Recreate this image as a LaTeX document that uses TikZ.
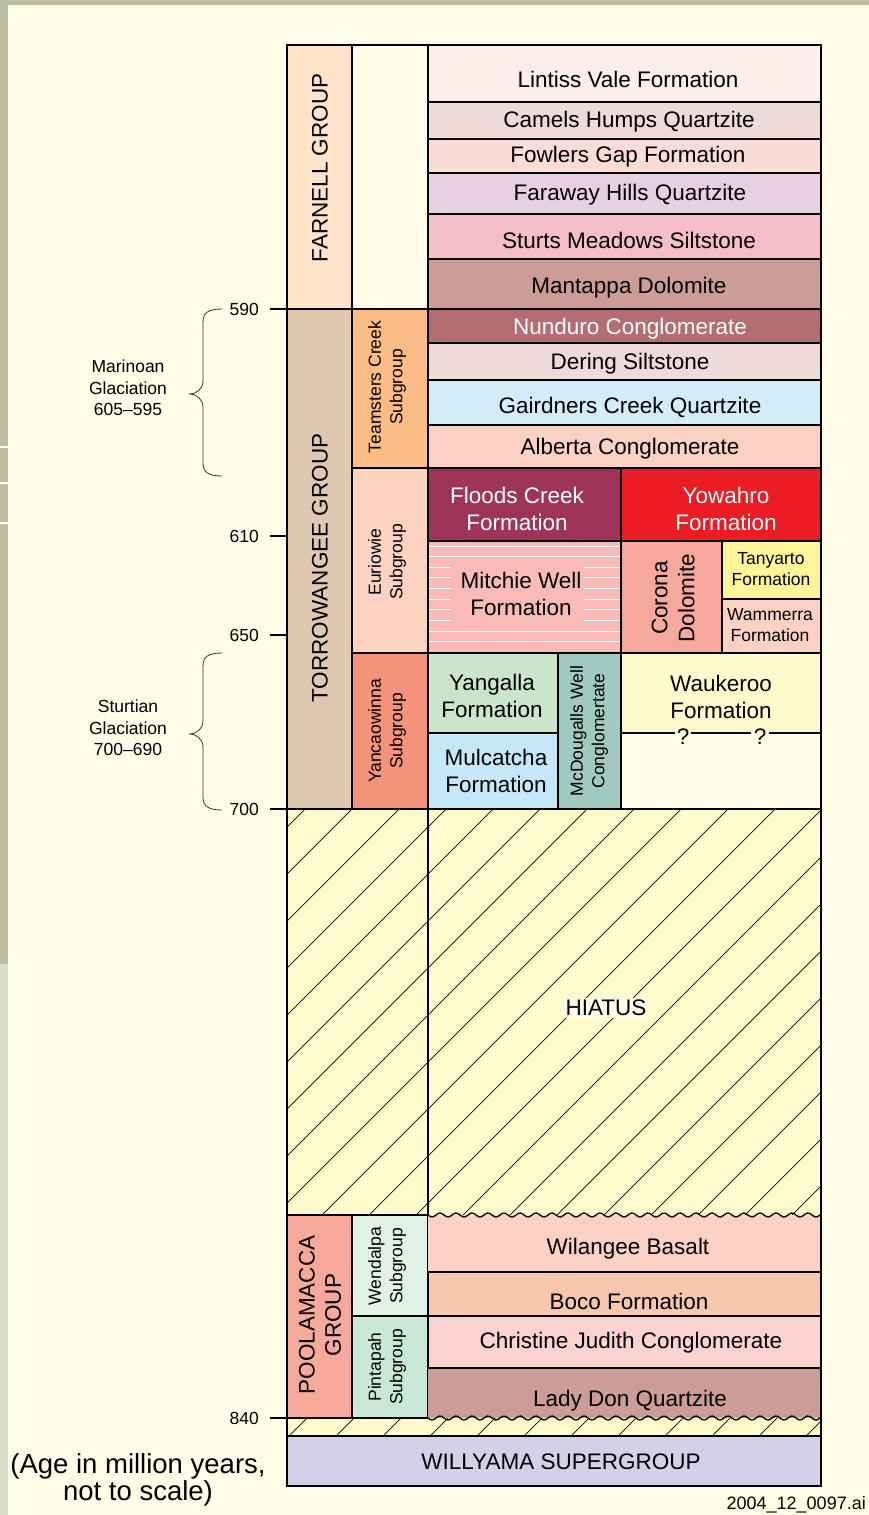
\documentclass[tikz,border=0pt]{standalone}
\usepackage{fontspec}
\setmainfont{Liberation Sans}
\definecolor{bg}{HTML}{FFFDE8}
\definecolor{strip}{HTML}{BBBF9F}
\definecolor{stripb}{HTML}{D9DCC8}
\definecolor{farnell}{HTML}{FDE3C8}
\definecolor{torro}{HTML}{E0C8B0}
\definecolor{lintiss}{HTML}{FDEEEB}
\definecolor{camels}{HTML}{EEDBD9}
\definecolor{fowlers}{HTML}{FBDDD6}
\definecolor{faraway}{HTML}{E8D0E3}
\definecolor{sturts}{HTML}{F6BECA}
\definecolor{mantappa}{HTML}{CC9D97}
\definecolor{nunduro}{HTML}{B46E72}
\definecolor{dering}{HTML}{EEDBD9}
\definecolor{gairdners}{HTML}{D2EDF8}
\definecolor{alberta}{HTML}{FBD1C3}
\definecolor{teamsters}{HTML}{FBBC85}
\definecolor{euriowie}{HTML}{FCD3C1}
\definecolor{yancaowinna}{HTML}{F4937A}
\definecolor{floods}{HTML}{9E3558}
\definecolor{yowahro}{HTML}{EC1C24}
\definecolor{mitchie}{HTML}{F9BBB8}
\definecolor{corona}{HTML}{F5A89B}
\definecolor{tanyarto}{HTML}{FEF598}
\definecolor{wammerra}{HTML}{FBD1C3}
\definecolor{yangalla}{HTML}{CBE5CB}
\definecolor{mulcatcha}{HTML}{C4E8F7}
\definecolor{mcdougalls}{HTML}{A0C9C0}
\definecolor{waukeroo}{HTML}{FFFACC}
\definecolor{hiatus}{HTML}{FFFBCC}
\definecolor{poolamacca}{HTML}{F6A99B}
\definecolor{wendalpa}{HTML}{E0F2E6}
\definecolor{pintapah}{HTML}{C9E7D5}
\definecolor{wilangee}{HTML}{FBD1C6}
\definecolor{boco}{HTML}{F9C6AE}
\definecolor{christine}{HTML}{FAD2D0}
\definecolor{ladydon}{HTML}{CC9D97}
\definecolor{willyama}{HTML}{D3D0E8}
\tikzset{
  unitline/.style={draw=black, line width=1.3pt},
  hatchline/.style={draw=black, line width=0.7pt},
  bigtxt/.style={font=\fontsize{22.5}{27}\selectfont, align=center, inner sep=0pt},
  smalltxt/.style={font=\fontsize{17.5}{21.5}\selectfont, align=center, inner sep=0pt},
  grptxt/.style={font=\fontsize{22.5}{26}\selectfont, align=center, inner sep=0pt},
  bracestyle/.style={draw=black!80, line width=0.8pt},
  tickline/.style={draw=black, line width=1.3pt},
}
\newcommand\bx[5]{\draw[unitline, fill=#5] (#1,#2) rectangle (#3,#4);}
\begin{document}
\begin{tikzpicture}[x=1pt,y=-1pt]
\useasboundingbox (0,0) rectangle (869,1515);
% background
\fill[bg] (0,0) rectangle (869,1515);
\fill[strip] (0,0) rectangle (869,5);
\fill[strip] (0,0) rectangle (8,964);
\fill[stripb] (0,964) rectangle (8,1515);
\draw[white, line width=1.2pt] (0,447) -- (8,447) (0,483) -- (8,483) (0,523) -- (8,523);
% hiatus area with hatching
\fill[hiatus] (287,809) rectangle (821,1436);
\begin{scope}
  \clip (287,809) rectangle (821,1436);
  \foreach \c in {1114,1161,...,2260} \draw[hatchline] ({\c-1440},1440) -- ({\c-800},800);
\end{scope}
\draw[unitline] (428,809) -- (428,1215);
% Farnell
\bx{287}{45}{352}{309}{farnell}
\bx{352}{45}{428}{309}{bg}
\bx{428}{45}{821}{102}{lintiss}
\bx{428}{102}{821}{139}{camels}
\bx{428}{139}{821}{173}{fowlers}
\bx{428}{173}{821}{214}{faraway}
\bx{428}{214}{821}{259}{sturts}
\bx{428}{259}{821}{309}{mantappa}
% Torrowangee
\bx{287}{309}{352}{809}{torro}
\bx{352}{309}{428}{468}{teamsters}
\bx{352}{468}{428}{653}{euriowie}
\bx{352}{653}{428}{809}{yancaowinna}
\bx{428}{309}{821}{343}{nunduro}
\bx{428}{343}{821}{380}{dering}
\bx{428}{380}{821}{425}{gairdners}
\bx{428}{425}{821}{468}{alberta}
\bx{428}{468}{621}{541}{floods}
\bx{621}{468}{821}{541}{yowahro}
% Mitchie Well with white lines
\fill[mitchie] (428,541) rectangle (621,653);
\foreach \y in {546,556,631,641} \draw[white, line width=1pt] (428,\y) -- (621,\y);
\foreach \y in {567,577,588,599,609,620} \draw[white, line width=1pt] (428,\y) -- (451,\y) (584,\y) -- (621,\y);
\draw[unitline] (428,541) rectangle (621,653);
\bx{621}{541}{722}{653}{corona}
\bx{722}{541}{821}{599}{tanyarto}
\bx{722}{599}{821}{653}{wammerra}
\bx{428}{653}{558}{733}{yangalla}
\bx{428}{733}{558}{809}{mulcatcha}
\bx{558}{653}{621}{809}{mcdougalls}
\fill[waukeroo] (621,653) rectangle (821,733);
\draw[unitline] (621,653) rectangle (821,809);
\draw[unitline] (621,733) -- (675,733) (691,733) -- (751,733) (769,733) -- (821,733);
% Poolamacca
\bx{287}{1215}{352}{1418}{poolamacca}
\bx{352}{1215}{428}{1316}{wendalpa}
\bx{352}{1316}{428}{1418}{pintapah}
\fill[wilangee] (428,1215) rectangle (821,1272);
\bx{428}{1272}{821}{1316}{boco}
\bx{428}{1316}{821}{1368}{christine}
\fill[ladydon] (428,1368) rectangle (821,1418);
\draw[unitline] (428,1368) -- (821,1368);
\draw[unitline] plot[domain=428:821, samples=200] (\x,{1215+2*sin((\x-428)*22.5)});
\draw[unitline] plot[domain=428:821, samples=200] (\x,{1418+2*sin((\x-428)*22.5)});
\draw[unitline] (287,1215) -- (428,1215);
% Willyama
\bx{287}{1436}{821}{1486}{willyama}
% outer frame
\draw[line width=2pt] (287,45) rectangle (821,1486);
% ticks
\foreach \yy/\lab in {309/590, 536/610, 635/650, 809/700, 1418/840}{
  \draw[tickline] (270,\yy) -- (287,\yy);
  \node[smalltxt, anchor=east] (tick\lab) at (259,\yy) {\lab};
}
% braces
\draw[bracestyle] (222,309) .. controls (208,309) and (203,313) .. (203,322) -- (203,381)
  .. controls (203,389) and (196,394) .. (190,394) .. controls (196,394) and (203,399) .. (203,407)
  -- (203,463) .. controls (203,472) and (208,476) .. (222,476);
\draw[bracestyle] (222,653) .. controls (208,653) and (203,657) .. (203,666) -- (203,721)
  .. controls (203,729) and (196,734) .. (190,734) .. controls (196,734) and (203,739) .. (203,747)
  -- (203,797) .. controls (203,806) and (208,810) .. (222,810);
\node[smalltxt] (marinoan) at (128,388) {Marinoan\\Glaciation\\605–595};
\node[smalltxt] (sturtian) at (128,728) {Sturtian\\Glaciation\\700–690};
% group and subgroup labels
\node[grptxt, rotate=90] (farnellg) at (320,168) {FARNELL GROUP};
\node[grptxt, rotate=90] (torrog) at (320,568) {TORROWANGEE GROUP};
\node[grptxt, rotate=90] (poolg) at (320,1315) {POOLAMACCA\\GROUP};
\node[smalltxt, rotate=90] (teamsg) at (387,387) {Teamsters Creek\\Subgroup};
\node[smalltxt, rotate=90] (eurig) at (387,562) {Euriowie\\Subgroup};
\node[smalltxt, rotate=90] (yancg) at (387,731) {Yancaowinna\\Subgroup};
\node[smalltxt, rotate=90] (wendg) at (387,1266) {Wendalpa\\Subgroup};
\node[smalltxt, rotate=90] (pintg) at (387,1367) {Pintapah\\Subgroup};
% formation labels
\node[bigtxt] (lintisst) at (628,79) {Lintiss Vale Formation};
\node[bigtxt] (camelst) at (629,122) {Camels Humps Quartzite};
\node[bigtxt] (fowlerst) at (628,157) {Fowlers Gap Formation};
\node[bigtxt] (farawayt) at (630,195) {Faraway Hills Quartzite};
\node[bigtxt] (sturtst) at (629,240) {Sturts Meadows Siltstone};
\node[bigtxt] (mantappat) at (629,288) {Mantappa Dolomite};
\node[bigtxt, text=white] (nundurot) at (630,329) {Nunduro Conglomerate};
\node[bigtxt] (deringt) at (630,364) {Dering Siltstone};
\node[bigtxt] (gairdnerst) at (630,407) {Gairdners Creek Quartzite};
\node[bigtxt] (albertat) at (630,449) {Alberta Conglomerate};
\node[bigtxt, text=white] (floodst) at (517,509) {Floods Creek\\Formation};
\node[bigtxt, text=white] (yowahrot) at (726,509) {Yowahro\\Formation};
\node[bigtxt] (mitchiet) at (521,594) {Mitchie Well\\Formation};
\node[bigtxt, rotate=90] (coronat) at (673,598) {Corona\\Dolomite};
\node[smalltxt] (tanyartot) at (771,569) {Tanyarto\\Formation};
\node[smalltxt] (wammerrat) at (770,625) {Wammerra\\Formation};
\node[bigtxt] (yangallat) at (492,696) {Yangalla\\Formation};
\node[bigtxt] (mulcatchat) at (496,771) {Mulcatcha\\Formation};
\node[smalltxt, rotate=90] (mcdougallst) at (589,731) {McDougalls Well\\Conglomertate};
\node[bigtxt] (waukeroot) at (721,697) {Waukeroo\\Formation};
\node[bigtxt] (q1) at (683,737) {?};
\node[bigtxt] (q2) at (760,737) {?};
\node[bigtxt, fill=bg, inner sep=2pt] (hiatust) at (606,1008) {HIATUS};
\node[bigtxt] (wilangeet) at (628,1249) {Wilangee Basalt};
\node[bigtxt] (bocot) at (629,1301) {Boco Formation};
\node[bigtxt] (christinet) at (631,1343) {Christine Judith Conglomerate};
\node[bigtxt] (ladydont) at (630,1401) {Lady Don Quartzite};
\node[bigtxt] (willyamat) at (561,1462) {WILLYAMA SUPERGROUP};
% notes
\node[font=\fontsize{27.5}{27}\selectfont, align=center, inner sep=0pt] (agenote) at (138,1480) {(Age in million years,\\not to scale)};
\node[font=\fontsize{18}{20}\selectfont, anchor=east, inner sep=0pt] (fileid) at (866,1505) {2004\_12\_0097.ai};
\end{tikzpicture}
\end{document}
